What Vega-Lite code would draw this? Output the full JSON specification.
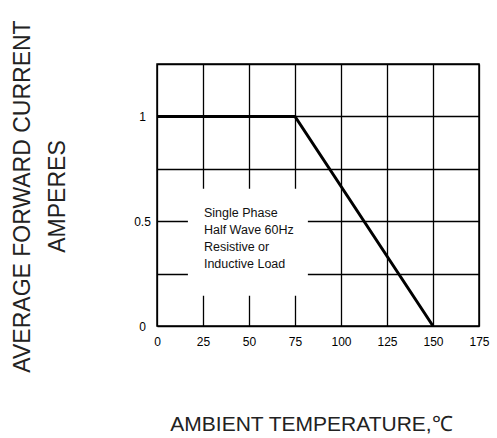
{
  "$schema": "https://vega.github.io/schema/vega-lite/v6.json",
  "width": 322,
  "height": 262,
  "autosize": "none",
  "padding": {"left": 157, "top": 64, "right": 18, "bottom": 112},
  "background": "white",
  "config": {
    "font": "Liberation Sans",
    "view": {"stroke": "black", "strokeWidth": 1.5}
  },
  "datasets": {
    "curve": [
      {"temp": 0, "current": 1},
      {"temp": 75, "current": 1},
      {"temp": 150, "current": 0}
    ],
    "box": [
      {"x1": 16.8, "x2": 82, "y1": 0.144, "y2": 0.655}
    ],
    "note": [
      {"label": "Single Phase\nHalf Wave 60Hz\nResistive or\nInductive Load", "tx": 25.5, "ty": 0.57}
    ]
  },
  "layer": [
    {
      "data": {"name": "box"},
      "mark": {"type": "rect", "fill": "white", "stroke": null},
      "encoding": {
        "x": {"field": "x1", "type": "quantitative", "scale": {"domain": [0, 175], "nice": false, "zero": false},
          "axis": {
            "values": [0, 25, 50, 75, 100, 125, 150, 175],
            "grid": true, "gridColor": "black", "gridWidth": 1.3, "gridOpacity": 1,
            "ticks": false, "domain": false,
            "labelFontSize": 12, "labelColor": "black", "labelPadding": 10, "labelFlush": false,
            "title": "AMBIENT TEMPERATURE,℃",
            "titleFontSize": 21, "titleFontWeight": "normal", "titleColor": "#222",
            "titleX": 154, "titleY": 98, "titleBaseline": "middle", "titleAnchor": "middle", "titleAlign": "center"
          }},
        "x2": {"field": "x2"},
        "y": {"field": "y1", "type": "quantitative", "scale": {"domain": [0, 1.25], "nice": false, "zero": false},
          "axis": {
            "values": [0, 0.25, 0.5, 0.75, 1, 1.25],
            "labelExpr": "datum.value == 0 ? '0' : datum.value == 0.5 ? '0.5' : datum.value == 1 ? '1' : ''",
            "grid": true, "gridColor": "black", "gridWidth": 1.3, "gridOpacity": 1,
            "ticks": false, "domain": false,
            "labelFontSize": 12, "labelColor": "black", "labelPadding": 15, "labelAlign": "center", "labelBaseline": "middle", "labelFlush": false,
            "title": ["AVERAGE FORWARD CURRENT", "AMPERES"],
            "titleFontSize": 23, "titleFontWeight": "normal", "titleColor": "#222",
            "titleAngle": -90, "titleLineHeight": 35,
            "titleX": -135, "titleY": 132, "titleBaseline": "middle", "titleAlign": "center"
          }},
        "y2": {"field": "y2"}
      }
    },
    {
      "data": {"name": "curve"},
      "mark": {"type": "line", "color": "black", "strokeWidth": 3, "strokeJoin": "miter"},
      "encoding": {
        "x": {"field": "temp", "type": "quantitative"},
        "y": {"field": "current", "type": "quantitative"}
      }
    },
    {
      "data": {"name": "note"},
      "mark": {"type": "text", "align": "left", "baseline": "top", "fontSize": 12.5, "letterSpacing": -0.6, "lineHeight": 17, "lineBreak": "\n", "color": "#111"},
      "encoding": {
        "x": {"field": "tx", "type": "quantitative"},
        "y": {"field": "ty", "type": "quantitative"},
        "text": {"field": "label"}
      }
    }
  ]
}
